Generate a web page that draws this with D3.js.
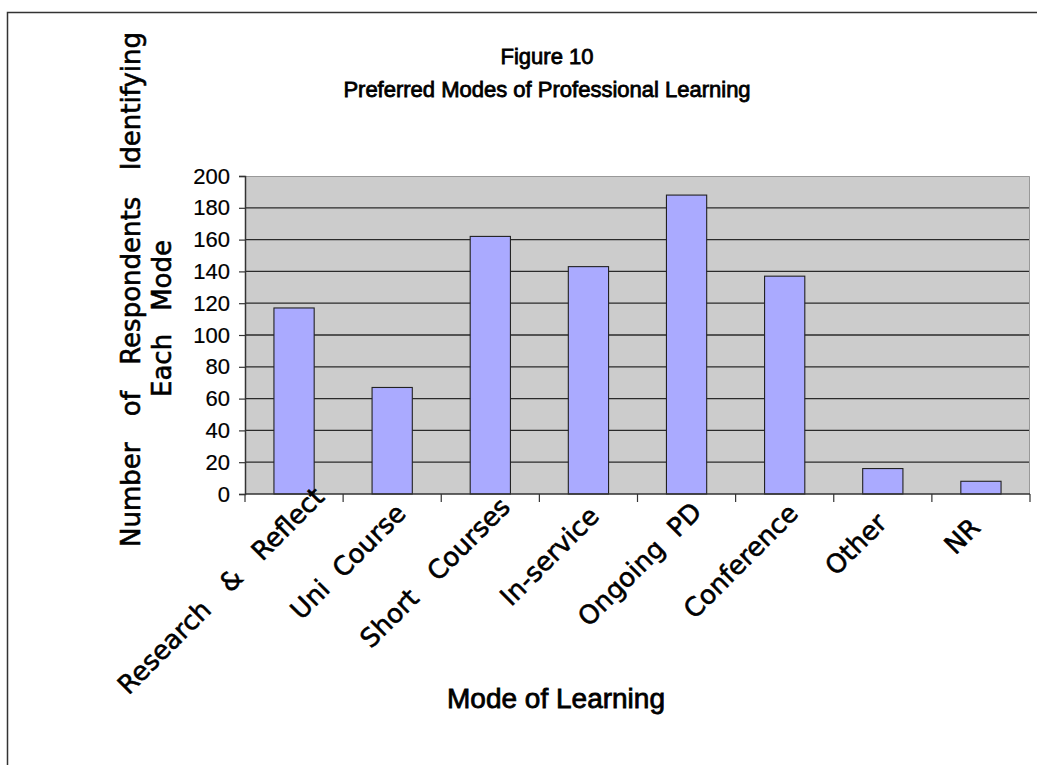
<!DOCTYPE html>
<html>
<head>
<meta charset="utf-8">
<script src="https://cdn.jsdelivr.net/npm/d3@7"></script>
<style>
  html, body { margin: 0; padding: 0; background: #fff; }
  svg { display: block; }
</style>
</head>
<body>
<svg id="chart" width="1037" height="765"></svg>
<script>
// ---- data ----
const categories = ["Research\u00A0\u00A0\u00A0&\u00A0\u00A0\u00A0Reflect", "Uni\u00A0\u00A0Course", "Short\u00A0\u00A0\u00A0Courses", "In-service", "Ongoing\u00A0\u00A0PD", "Conference", "Other", "NR"];
const values = [117, 67, 162, 143, 188, 137, 16, 8];
const yTicks = [0, 20, 40, 60, 80, 100, 120, 140, 160, 180, 200];
const titleLines = ["Figure 10", "Preferred Modes of Professional Learning"];
const yLabelLine1 = ["Number", "of", "Respondents", "Identifying"];
const yLabelLine2 = ["Each", "Mode"];
const xTitle = "Mode of Learning";

// ---- layout ----
const svg = d3.select("#chart");
const plot = { left: 245, right: 1030, top: 176, bottom: 494 };
const labelFont = "'DejaVu Sans', Verdana, sans-serif";
const arialFont = "'Liberation Sans', Arial, sans-serif";

// outer frame
svg.append("rect")
  .attr("x", 7.5).attr("y", 12.5)
  .attr("width", 1100).attr("height", 800)
  .attr("fill", "#fff").attr("stroke", "#333").attr("stroke-width", 1.5);

const x = d3.scaleBand()
  .domain(categories)
  .range([plot.left, plot.right])
  .paddingInner(0.59)
  .paddingOuter(0.295);

const y = d3.scaleLinear().domain([0, 200]).range([plot.bottom, plot.top]);

// plot background
svg.append("rect")
  .attr("x", plot.left).attr("y", plot.top)
  .attr("width", plot.right - plot.left).attr("height", plot.bottom - plot.top)
  .attr("fill", "#cccccc");

// plot border top/right (light)
svg.append("path")
  .attr("d", `M${plot.left},${plot.top + 0.5}H${plot.right - 0.5}V${plot.bottom}`)
  .attr("fill", "none").attr("stroke", "#999").attr("stroke-width", 1);

// gridlines
svg.append("g").selectAll("line")
  .data(yTicks.filter(d => d > 0 && d < 200))
  .join("line")
  .attr("x1", plot.left).attr("x2", plot.right - 1)
  .attr("y1", d => y(d)).attr("y2", d => y(d))
  .attr("stroke", "#2a2a2a").attr("stroke-width", 1.3);

// bars
svg.append("g").selectAll("rect")
  .data(values)
  .join("rect")
  .attr("x", (d, i) => x(categories[i]))
  .attr("y", d => y(d))
  .attr("width", x.bandwidth())
  .attr("height", d => y(0) - y(d))
  .attr("fill", "#aaaaff")
  .attr("stroke", "#222").attr("stroke-width", 1.1);

// y axis
const yAxis = d3.axisLeft(y).tickValues(yTicks).tickSize(6).tickPadding(9);
const gy = svg.append("g").attr("transform", `translate(${plot.left},0)`).call(yAxis);
gy.select(".domain").attr("stroke", "#333").attr("stroke-width", 1.5);
gy.selectAll(".tick line").attr("stroke", "#333").attr("stroke-width", 1.2);
gy.selectAll(".tick text")
  .attr("font-family", arialFont).attr("font-size", 22).attr("fill", "#000")
  .attr("stroke", "#000").attr("stroke-width", 0.2);

// x axis line and boundary ticks
svg.append("line")
  .attr("x1", plot.left).attr("x2", plot.right)
  .attr("y1", plot.bottom).attr("y2", plot.bottom)
  .attr("stroke", "#333").attr("stroke-width", 1.5);
const step = x.step();
svg.append("g").selectAll("line")
  .data(d3.range(categories.length + 1))
  .join("line")
  .attr("x1", i => plot.left + i * step).attr("x2", i => plot.left + i * step)
  .attr("y1", plot.bottom).attr("y2", plot.bottom + 8)
  .attr("stroke", "#333").attr("stroke-width", 1.2);

// x category labels rotated -45
const xl = svg.append("g");
categories.forEach((c, i) => {
  const cx = x(c) + x.bandwidth() / 2;
  const t = xl.append("text")
    .attr("font-family", labelFont).attr("font-size", 26)
    .attr("fill", "#000").attr("stroke", "#000").attr("stroke-width", 0.6)
    .attr("text-anchor", "end")
    .text(c);
  const L = t.node().getComputedTextLength();
  const s = 0.18 * L - 31;
  const a = 18;
  const px = cx + a + 0.7071 * s;
  const py = plot.bottom + a - 0.7071 * s;
  t.attr("transform", `translate(${px},${py}) rotate(-45)`);
});

// title
svg.append("text")
  .attr("x", 547).attr("y", 64)
  .attr("text-anchor", "middle")
  .attr("font-family", arialFont).attr("font-size", 22)
  .attr("fill", "#000").attr("stroke", "#000").attr("stroke-width", 0.8)
  .text(titleLines[0]);
svg.append("text")
  .attr("x", 547).attr("y", 97)
  .attr("text-anchor", "middle")
  .attr("font-family", arialFont).attr("font-size", 22)
  .attr("fill", "#000").attr("stroke", "#000").attr("stroke-width", 0.8)
  .text(titleLines[1]);

// x title
svg.append("text")
  .attr("x", 556).attr("y", 708)
  .attr("text-anchor", "middle")
  .attr("font-family", arialFont).attr("font-size", 28)
  .attr("fill", "#000").attr("stroke", "#000").attr("stroke-width", 0.8)
  .text(xTitle);

// y label, justified words along a vertical span
function justifiedVertical(words, baseX, yBottom, yTop) {
  const g = svg.append("g");
  const nodes = words.map(w => g.append("text")
    .attr("font-family", labelFont).attr("font-size", 26)
    .attr("fill", "#000").attr("stroke", "#000").attr("stroke-width", 0.6)
    .attr("text-anchor", "start")
    .text(w));
  const widths = nodes.map(n => n.node().getComputedTextLength());
  const total = d3.sum(widths);
  const gap = words.length > 1 ? ((yBottom - yTop) - total) / (words.length - 1) : 0;
  let pos = yBottom;
  nodes.forEach((n, i) => {
    n.attr("transform", `translate(${baseX},${pos}) rotate(-90)`);
    pos -= widths[i] + gap;
  });
}
justifiedVertical(yLabelLine1, 140, 547, 32);
justifiedVertical(yLabelLine2, 171, 397, 240);
</script>
</body>
</html>
